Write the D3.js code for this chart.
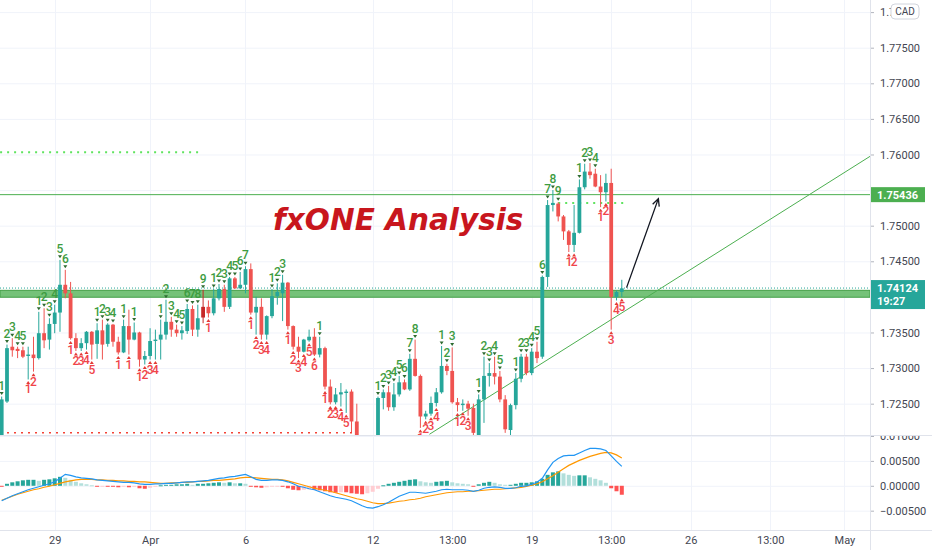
<!DOCTYPE html>
<html>
<head>
<meta charset="utf-8">
<script src="https://cdn.jsdelivr.net/npm/d3@7"></script>
<style>
  body { margin: 0; background: #fff; }
  svg { display: block; }
</style>
</head>
<body>
<div id="chart"></div>
<script>
// ---- data (4H candles) ----
const opens = [1.7200,1.7253,1.7330,1.7327,1.7325,1.7317,1.7319,1.7314,1.7349,1.7340,
1.7362,1.7378,1.7417,1.7405,1.7342,1.7328,1.7335,1.7351,1.7334,1.7353,
1.7334,1.7361,1.7337,1.7322,1.7359,1.7340,1.7350,1.7312,1.7317,1.7338,
1.7340,1.7347,1.7365,1.7354,1.7349,1.7352,1.7383,1.7354,1.7386,1.7386,
1.7377,1.7398,1.7411,1.7386,1.7426,1.7412,1.7417,1.7439,1.7378,1.7386,
1.7347,1.7373,1.7401,1.7405,1.7420,1.7359,1.7330,1.7323,1.7339,1.7344,
1.7319,1.7328,1.7274,1.7252,1.7263,1.7265,1.7267,1.7225,1.7190,1.7170,
1.7162,1.7160,1.7258,1.7266,1.7245,1.7263,1.7280,1.7270,1.7313,1.7289,
1.7232,1.7236,1.7251,1.7266,1.7303,1.7296,1.7252,1.7248,1.7250,1.7244,
1.7205,1.7256,1.7289,1.7293,1.7288,1.7256,1.7213,1.7248,1.7285,1.7316,
1.7293,1.7323,1.7316,1.7428,1.7529,1.7531,1.7513,1.7492,1.7473,1.7490,
1.7554,1.7576,1.7573,1.7555,1.7547,1.7560,1.7400,1.7407];

const highs = [1.7260,1.7333,1.7342,1.7330,1.7330,1.7330,1.7344,1.7379,1.7384,1.7370,
1.7389,1.7452,1.7438,1.7421,1.7349,1.7342,1.7352,1.7352,1.7363,1.7368,
1.7363,1.7362,1.7344,1.7368,1.7382,1.7364,1.7351,1.7324,1.7356,1.7354,
1.7368,1.7396,1.7372,1.7361,1.7359,1.7390,1.7388,1.7389,1.7410,1.7395,
1.7411,1.7418,1.7417,1.7428,1.7428,1.7435,1.7443,1.7447,1.7400,1.7398,
1.7374,1.7411,1.7419,1.7431,1.7421,1.7360,1.7344,1.7341,1.7354,1.7356,
1.7344,1.7330,1.7284,1.7272,1.7279,1.7270,1.7270,1.7250,1.7198,1.7185,
1.7178,1.7260,1.7270,1.7275,1.7279,1.7289,1.7284,1.7320,1.7340,1.7291,
1.7240,1.7260,1.7272,1.7331,1.7306,1.7329,1.7258,1.7256,1.7254,1.7250,
1.7263,1.7316,1.7307,1.7316,1.7296,1.7262,1.7250,1.7293,1.7320,1.7320,
1.7328,1.7337,1.7430,1.7536,1.7550,1.7533,1.7515,1.7494,1.7529,1.7565,
1.7587,1.7588,1.7580,1.7571,1.7573,1.7580,1.7409,1.7424];

const lows = [1.7195,1.7251,1.7316,1.7314,1.7314,1.7284,1.7295,1.7312,1.7328,1.7326,
1.7349,1.7351,1.7398,1.7340,1.7324,1.7324,1.7326,1.7312,1.7313,1.7312,
1.7330,1.7330,1.7319,1.7321,1.7319,1.7339,1.7302,1.7305,1.7312,1.7312,
1.7312,1.7340,1.7344,1.7344,1.7340,1.7348,1.7345,1.7344,1.7363,1.7371,
1.7374,1.7395,1.7379,1.7383,1.7411,1.7411,1.7405,1.7375,1.7347,1.7340,
1.7340,1.7370,1.7389,1.7366,1.7354,1.7326,1.7314,1.7322,1.7337,1.7317,
1.7315,1.7270,1.7249,1.7249,1.7246,1.7237,1.7210,1.7180,1.7155,1.7148,
1.7150,1.7155,1.7242,1.7240,1.7240,1.7260,1.7269,1.7268,1.7288,1.7216,
1.7228,1.7233,1.7246,1.7264,1.7290,1.7250,1.7239,1.7240,1.7233,1.7200,
1.7200,1.7223,1.7274,1.7277,1.7252,1.7209,1.7205,1.7242,1.7280,1.7290,
1.7290,1.7307,1.7313,1.7414,1.7520,1.7506,1.7480,1.7463,1.7463,1.7489,
1.7551,1.7566,1.7554,1.7526,1.7534,1.7354,1.7395,1.7400];

const closes = [1.7256,1.7328,1.7325,1.7324,1.7316,1.7319,1.7314,1.7349,1.7339,1.7362,
1.7378,1.7417,1.7405,1.7342,1.7328,1.7335,1.7351,1.7333,1.7353,1.7333,
1.7361,1.7337,1.7322,1.7359,1.7340,1.7350,1.7312,1.7317,1.7338,1.7340,
1.7347,1.7365,1.7354,1.7349,1.7353,1.7383,1.7354,1.7370,1.7371,1.7377,
1.7398,1.7411,1.7386,1.7426,1.7412,1.7417,1.7439,1.7378,1.7386,1.7347,
1.7373,1.7401,1.7407,1.7420,1.7359,1.7330,1.7323,1.7340,1.7344,1.7319,
1.7328,1.7274,1.7252,1.7263,1.7266,1.7267,1.7225,1.7190,1.7170,1.7162,
1.7160,1.7258,1.7266,1.7245,1.7263,1.7280,1.7270,1.7313,1.7289,1.7232,
1.7236,1.7251,1.7266,1.7303,1.7296,1.7252,1.7248,1.7250,1.7243,1.7209,
1.7256,1.7289,1.7293,1.7288,1.7256,1.7214,1.7248,1.7285,1.7316,1.7293,
1.7323,1.7314,1.7428,1.7529,1.7532,1.7513,1.7492,1.7473,1.7490,1.7554,
1.7576,1.7571,1.7555,1.7547,1.7560,1.7400,1.7407,1.7412];

// MACD pane
const macdLine = [-0.0030,-0.0025,-0.0020,-0.0016,-0.0012,-0.0008,-0.0005,-0.0002,0.0001,0.0004,
0.0008,0.0015,0.0023,0.0021,0.0018,0.0016,0.0015,0.0014,0.0012,0.0011,
0.0010,0.0009,0.0008,0.0007,0.0007,0.0006,0.0004,0.0003,0.0003,0.0004,
0.0004,0.0005,0.0005,0.0006,0.0007,0.0008,0.0008,0.0009,0.0010,0.0011,
0.0013,0.0015,0.0016,0.0018,0.0019,0.0021,0.0023,0.0018,0.0013,0.0011,
0.0011,0.0012,0.0012,0.0011,0.0008,0.0004,-0.0001,-0.0003,-0.0006,-0.0008,
-0.0012,-0.0016,-0.0020,-0.0023,-0.0025,-0.0027,-0.0030,-0.0035,-0.0040,-0.0044,
-0.0045,-0.0042,-0.0038,-0.0033,-0.0027,-0.0021,-0.0017,-0.0013,-0.0013,-0.0014,
-0.0015,-0.0013,-0.0011,-0.0008,-0.0007,-0.0008,-0.0008,-0.0008,-0.0009,-0.0011,
-0.0009,-0.0005,-0.0003,-0.0002,-0.0003,-0.0005,-0.0005,-0.0004,-0.0001,0.0000,
0.0003,0.0007,0.0015,0.0032,0.0047,0.0055,0.0060,0.0061,0.0061,0.0066,
0.0071,0.0075,0.0075,0.0074,0.0071,0.0060,0.0049,0.0039];

const signalLine = [-0.0029,-0.0025,-0.0021,-0.0017,-0.0014,-0.0011,-0.0008,-0.0006,-0.0003,-0.0001,
0.0002,0.0005,0.0008,0.0010,0.0012,0.0013,0.0013,0.0013,0.0012,0.0012,
0.0011,0.0011,0.0010,0.0010,0.0009,0.0009,0.0008,0.0008,0.0007,0.0006,
0.0005,0.0005,0.0006,0.0006,0.0007,0.0007,0.0008,0.0009,0.0009,0.0010,
0.0011,0.0011,0.0012,0.0013,0.0014,0.0016,0.0017,0.0017,0.0016,0.0015,
0.0014,0.0013,0.0013,0.0012,0.0010,0.0007,0.0004,0.0001,-0.0002,-0.0005,
-0.0007,-0.0009,-0.0011,-0.0014,-0.0017,-0.0020,-0.0023,-0.0026,-0.0028,-0.0031,
-0.0034,-0.0036,-0.0036,-0.0035,-0.0033,-0.0031,-0.0030,-0.0028,-0.0027,-0.0025,
-0.0022,-0.0020,-0.0018,-0.0016,-0.0014,-0.0013,-0.0012,-0.0012,-0.0011,-0.0011,
-0.0010,-0.0009,-0.0008,-0.0007,-0.0007,-0.0006,-0.0005,-0.0004,-0.0003,-0.0001,
0.0001,0.0004,0.0008,0.0014,0.0020,0.0027,0.0034,0.0041,0.0046,0.0051,
0.0055,0.0059,0.0062,0.0065,0.0067,0.0066,0.0062,0.0056];

const histValues = [-0.0002,0.0004,0.0007,0.0009,0.0011,0.0012,0.0012,0.0010,0.0012,0.0013,
0.0015,0.0018,0.0016,0.0012,0.0008,0.0005,0.0003,0.0001,-0.0002,-0.0001,
-0.0001,-0.0002,-0.0003,-0.0002,-0.0003,-0.0002,-0.0005,-0.0006,-0.0004,-0.0002,
0.0001,0.0002,0.0002,0.0003,0.0003,0.0004,0.0002,0.0004,0.0004,0.0005,
0.0006,0.0007,0.0006,0.0007,0.0005,0.0005,0.0004,-0.0001,-0.0003,-0.0004,
-0.0003,-0.0002,-0.0001,-0.0001,-0.0005,-0.0008,-0.0009,-0.0008,-0.0007,-0.0008,
-0.0009,-0.0011,-0.0013,-0.0014,-0.0013,-0.0013,-0.0015,-0.0016,-0.0017,-0.0015,
-0.0012,-0.0006,0.0001,0.0004,0.0006,0.0008,0.0010,0.0012,0.0013,0.0009,
0.0007,0.0006,0.0008,0.0009,0.0010,0.0007,0.0005,0.0004,0.0003,-0.0002,
0.0003,0.0006,0.0008,0.0006,0.0003,0.0002,0.0002,0.0004,0.0006,0.0006,
0.0007,0.0009,0.0014,0.0022,0.0027,0.0029,0.0025,0.0022,0.0020,0.0021,
0.0021,0.0017,0.0014,0.0011,0.0006,-0.0005,-0.0011,-0.0018];

// TD sequential counts: [bar index, label]
const tdUp = [[0,"1"],[1,"2"],[2,"3"],[3,"4"],[4,"5"],[7,"1"],[8,"2"],[9,"3"],[10,"4"],[11,"5"],[12,"6"],
[18,"1"],[19,"2"],[20,"3"],[21,"4"],[23,"1"],[25,"1"],[30,"1"],[31,"2"],[32,"3"],[33,"4"],[34,"5"],
[35,"6"],[36,"7"],[37,"8"],[38,"9"],[40,"1"],[41,"2"],[42,"3"],[43,"4"],[44,"5"],[45,"6"],[46,"7"],
[51,"1"],[52,"2"],[53,"3"],[60,"1"],[71,"1"],[72,"2"],[73,"3"],[74,"4"],[75,"5"],[76,"6"],[77,"7"],
[78,"8"],[83,"1"],[84,"2"],[85,"3"],[90,"1"],[91,"2"],[92,"3"],[93,"4"],[94,"5"],[97,"1"],[98,"2"],
[99,"3"],[100,"4"],[101,"5"],[102,"6"],[103,"7"],[104,"8"],[105,"9"],[109,"1"],[110,"2"],[111,"3"],[112,"4"]];
const tdDown = [[5,"1"],[6,"2"],[13,"1"],[14,"2"],[15,"3"],[16,"4"],[17,"5"],[22,"1"],[24,"1"],[26,"1"],
[27,"2"],[28,"3"],[29,"4"],[39,"1"],[47,"1"],[48,"2"],[49,"3"],[50,"4"],[54,"1"],[55,"2"],[56,"3"],
[57,"4"],[58,"5"],[59,"6"],[61,"1"],[62,"2"],[63,"3"],[64,"4"],[65,"5"],[79,"1"],[80,"2"],[81,"3"],
[82,"4"],[86,"1"],[87,"2"],[88,"3"],[107,"1"],[108,"2"],[113,"1"],[114,"2"],[115,"3"],[116,"4"],[117,"5"]];

// axes (1.74000 and 1.75500 sit under the price labels in the reference)
const priceTicks = [1.725,1.730,1.735,1.745,1.750,1.760,1.765,1.770,1.775,1.780];
const gridTicks = [1.725,1.730,1.735,1.740,1.745,1.750,1.755,1.760,1.765,1.770,1.775,1.780];
const macdTicks = [-0.005, 0, 0.005, 0.01];
const timeTicks = [10, 28, 46, 70, 85, 100, 115, 130, 145, 159];
const timeLabels = ["29","Apr","6","12","13:00","19","13:00","26","13:00","May"];

// drawings
const resistance = 1.75436;
const lastPrice = 1.74124;
const countdown = "19:27";
const zoneLow = 1.73995, zoneHigh = 1.74092;
const greenDotPrices = [1.7603, 1.7532];
const greenDotFrom = [-0.3, 105];
const greenDotTo = [37.2, 117.6];
const redDotPrice = 1.7209, redDotTo = 67.2;
const trendStart = [80.7, 1.7207], trendEnd = [164.6, 1.7601];
const arrowFrom = [117.9, 1.7413], arrowTo = [123.9, 1.7538];

// ---- layout ----
const width = 932, height = 550;
const plotRight = 870, priceBottom = 435, macdTop = 436, macdBottom = 530;
const teal = "#26a69a", red = "#ef5350";

const xScale = d3.scaleLinear().domain([-0.32, 163.83]).range([0, plotRight]);
const yScale = d3.scaleLinear().domain([1.7206, 1.7817]).range([priceBottom, 0]);
const yMacd = d3.scaleLinear().domain([-0.00888, 0.01]).range([macdBottom, macdTop]);

const svg = d3.select("#chart").append("svg")
  .attr("width", width).attr("height", height)
  .style("font-family", "Roboto, 'Liberation Sans', sans-serif");

const defs = svg.append("defs");
defs.append("clipPath").attr("id", "clipPrice")
  .append("rect").attr("x", 0).attr("y", 0).attr("width", plotRight).attr("height", priceBottom);
defs.append("clipPath").attr("id", "clipMacd")
  .append("rect").attr("x", 0).attr("y", macdTop).attr("width", plotRight).attr("height", macdBottom - macdTop);
defs.append("clipPath").attr("id", "clipMacdAxis")
  .append("rect").attr("x", plotRight).attr("y", macdTop).attr("width", width - plotRight).attr("height", macdBottom - macdTop);
defs.append("clipPath").attr("id", "clipBadge")
  .append("rect").attr("x", plotRight).attr("y", 0).attr("width", 21).attr("height", 24);

// grid
svg.append("g").selectAll("line").data(gridTicks).join("line")
  .attr("x1", 0).attr("x2", plotRight)
  .attr("y1", d => yScale(d) + 0.5).attr("y2", d => yScale(d) + 0.5)
  .attr("stroke", "#f0f3fa");
svg.append("g").selectAll("line").data(macdTicks).join("line")
  .attr("x1", 0).attr("x2", plotRight)
  .attr("y1", d => yMacd(d) + 0.5).attr("y2", d => yMacd(d) + 0.5)
  .attr("stroke", "#f0f3fa");
svg.append("g").selectAll("line").data(timeTicks).join("line")
  .attr("x1", d => Math.round(xScale(d)) + 0.5).attr("x2", d => Math.round(xScale(d)) + 0.5)
  .attr("y1", 0).attr("y2", macdBottom)
  .attr("stroke", "#f0f3fa");

// ---- price pane ----
const price = svg.append("g").attr("clip-path", "url(#clipPrice)");

// support zone
price.append("rect")
  .attr("x", 0).attr("width", plotRight)
  .attr("y", yScale(zoneHigh)).attr("height", yScale(zoneLow) - yScale(zoneHigh))
  .attr("fill", "#66bb6a").attr("fill-opacity", 0.9)
  .attr("stroke", "#43a047").attr("stroke-width", 1);

// resistance line
price.append("line")
  .attr("x1", 0).attr("x2", plotRight)
  .attr("y1", yScale(resistance)).attr("y2", yScale(resistance))
  .attr("stroke", "#4caf50").attr("stroke-width", 1);

// dotted levels
price.selectAll(".gdot").data(greenDotPrices).join("line")
  .attr("class", "gdot")
  .attr("x1", (d, i) => xScale(greenDotFrom[i])).attr("x2", (d, i) => xScale(greenDotTo[i]))
  .attr("y1", d => yScale(d)).attr("y2", d => yScale(d))
  .attr("stroke", "#5fe35f").attr("stroke-width", 2).attr("stroke-dasharray", "2,5");
price.append("line")
  .attr("x1", 0).attr("x2", xScale(redDotTo))
  .attr("y1", yScale(redDotPrice)).attr("y2", yScale(redDotPrice))
  .attr("stroke", "#f44336").attr("stroke-width", 1.5).attr("stroke-dasharray", "2,5");

// last price line
price.append("line")
  .attr("x1", 0).attr("x2", plotRight)
  .attr("y1", yScale(lastPrice)).attr("y2", yScale(lastPrice))
  .attr("stroke", teal).attr("stroke-width", 1).attr("stroke-dasharray", "1,2");

// trend line
price.append("line")
  .attr("x1", xScale(trendStart[0])).attr("y1", yScale(trendStart[1]))
  .attr("x2", xScale(trendEnd[0])).attr("y2", yScale(trendEnd[1]))
  .attr("stroke", "#4caf50").attr("stroke-width", 1);

// candles
const bars = opens.map((o, i) => ({ i, o, h: highs[i], l: lows[i], c: closes[i] }));
const barColor = d => d.c >= d.o ? teal : (d.i === 38 ? "#c62828" : red);

price.selectAll(".wick").data(bars).join("line")
  .attr("class", "wick")
  .attr("x1", d => xScale(d.i)).attr("x2", d => xScale(d.i))
  .attr("y1", d => yScale(d.h)).attr("y2", d => yScale(d.l))
  .attr("stroke", barColor).attr("stroke-width", 1);

price.selectAll(".body").data(bars).join("rect")
  .attr("class", "body")
  .attr("x", d => xScale(d.i) - 1.9).attr("width", 3.8)
  .attr("y", d => yScale(Math.max(d.o, d.c)))
  .attr("height", d => Math.max(1, Math.abs(yScale(d.o) - yScale(d.c))))
  .attr("fill", barColor);

// TD counts
const upG = price.append("g");
upG.selectAll("path").data(tdUp).join("path")
  .attr("d", d => {
    const cx = xScale(d[0]), cy = yScale(highs[d[0]]) - 3;
    return `M${cx - 2},${cy - 1.5}L${cx + 2},${cy - 1.5}L${cx},${cy + 1.5}Z`;
  })
  .attr("fill", "#2e6b30");
upG.selectAll("text").data(tdUp).join("text")
  .attr("x", d => xScale(d[0]))
  .attr("y", d => yScale(highs[d[0]]) - 7)
  .attr("text-anchor", "middle")
  .attr("font-size", 12).attr("font-weight", 500)
  .attr("fill", "#3d9c41")
  .text(d => d[1]);

const downG = price.append("g");
downG.selectAll("path").data(tdDown).join("path")
  .attr("d", d => {
    const cx = xScale(d[0]), cy = yScale(lows[d[0]]) + 3;
    return `M${cx - 2},${cy + 1.5}L${cx + 2},${cy + 1.5}L${cx},${cy - 1.5}Z`;
  })
  .attr("fill", "#e53935");
downG.selectAll("text").data(tdDown).join("text")
  .attr("x", d => xScale(d[0]))
  .attr("y", d => yScale(lows[d[0]]) + 14)
  .attr("text-anchor", "middle")
  .attr("font-size", 12).attr("font-weight", 500)
  .attr("fill", "#f0444a")
  .text(d => d[1]);

// arrow
const ax1 = xScale(arrowFrom[0]), ay1 = yScale(arrowFrom[1]);
const ax2 = xScale(arrowTo[0]), ay2 = yScale(arrowTo[1]);
const ang = Math.atan2(ay2 - ay1, ax2 - ax1);
price.append("path")
  .attr("d", `M${ax1},${ay1}L${ax2},${ay2}` +
    `M${ax2 - 8 * Math.cos(ang - 0.45)},${ay2 - 8 * Math.sin(ang - 0.45)}L${ax2},${ay2}` +
    `L${ax2 - 8 * Math.cos(ang + 0.45)},${ay2 - 8 * Math.sin(ang + 0.45)}`)
  .attr("fill", "none").attr("stroke", "#131722").attr("stroke-width", 1.3);

// title
svg.append("text")
  .attr("x", 273).attr("y", 230)
  .attr("font-family", "'DejaVu Sans', Verdana, sans-serif")
  .attr("font-size", 29.5).attr("font-weight", "bold").attr("font-style", "italic")
  .attr("fill", "#c8161d")
  .text("fxONE Analysis");

// ---- MACD pane ----
const macdG = svg.append("g").attr("clip-path", "url(#clipMacd)");

macdG.selectAll("rect").data(histValues).join("rect")
  .attr("x", (d, i) => xScale(i) - 2).attr("width", 4)
  .attr("y", d => yMacd(Math.max(0, d)))
  .attr("height", d => Math.max(1, Math.abs(yMacd(d) - yMacd(0))))
  .attr("fill", (d, i) => {
    const prev = i > 0 ? histValues[i - 1] : d;
    if (d >= 0) return d >= prev ? teal : "#b2dfdb";
    return d <= prev ? "#ff5252" : "#ffcdd2";
  });

const macdPath = d3.line().x((d, i) => xScale(i)).y(d => yMacd(d));
macdG.append("path").datum(signalLine)
  .attr("d", macdPath).attr("fill", "none").attr("stroke", "#ff9800").attr("stroke-width", 1.2);
macdG.append("path").datum(macdLine)
  .attr("d", macdPath).attr("fill", "none").attr("stroke", "#2196f3").attr("stroke-width", 1.2);

// ---- axes ----
const axisText = "#434651";

const yAxis = svg.append("g")
  .attr("transform", `translate(${plotRight},0)`)
  .call(d3.axisRight(yScale).tickValues(priceTicks.slice(0, -1)).tickFormat(d3.format(".5f")).tickSize(4).tickPadding(6));
yAxis.select(".domain").remove();

// top tick runs under the currency badge: only its start is visible
const topAxis = svg.append("g")
  .attr("clip-path", "url(#clipBadge)")
  .append("g")
  .attr("transform", `translate(${plotRight},0)`)
  .call(d3.axisRight(yScale).tickValues(priceTicks.slice(-1)).tickFormat(d3.format(".5f")).tickSize(4).tickPadding(6));
topAxis.select(".domain").remove();

const mAxis = svg.append("g")
  .attr("clip-path", "url(#clipMacdAxis)")
  .append("g")
  .attr("transform", `translate(${plotRight},0)`)
  .call(d3.axisRight(yMacd).tickValues(macdTicks).tickFormat(d3.format(".5f")).tickSize(4).tickPadding(6));
mAxis.select(".domain").remove();

const xAxis = svg.append("g")
  .attr("transform", `translate(0,${macdBottom})`)
  .call(d3.axisBottom(xScale).tickValues(timeTicks).tickFormat((d, i) => timeLabels[i]).tickSize(0).tickPadding(6));
xAxis.select(".domain").remove();

svg.selectAll(".tick text")
  .attr("font-family", "Roboto, 'Liberation Sans', sans-serif")
  .attr("font-size", 11).attr("fill", axisText);
svg.selectAll(".tick line").attr("stroke", "#b2b5be");

// borders
svg.append("line").attr("x1", 0).attr("x2", width).attr("y1", priceBottom + 0.5).attr("y2", priceBottom + 0.5).attr("stroke", "#e0e3eb");
svg.append("line").attr("x1", 0).attr("x2", width).attr("y1", macdBottom + 0.5).attr("y2", macdBottom + 0.5).attr("stroke", "#e0e3eb");
svg.append("line").attr("x1", plotRight + 0.5).attr("x2", plotRight + 0.5).attr("y1", 0).attr("y2", height).attr("stroke", "#e0e3eb");

// price labels on the axis
const resY = yScale(resistance);
svg.append("rect").attr("x", plotRight + 1).attr("y", resY - 7.5).attr("width", 54).attr("height", 15).attr("fill", "#4caf50");
svg.append("text").attr("x", plotRight + 7).attr("y", resY + 4)
  .attr("font-size", 11).attr("font-weight", "bold").attr("fill", "#fff").text(d3.format(".5f")(resistance));

const lastY = yScale(lastPrice);
svg.append("rect").attr("x", plotRight + 1).attr("y", lastY - 8).attr("width", 54).attr("height", 29).attr("fill", teal);
svg.append("text").attr("x", plotRight + 7).attr("y", lastY + 4)
  .attr("font-size", 11).attr("font-weight", "bold").attr("fill", "#fff").text(d3.format(".5f")(lastPrice));
svg.append("text").attr("x", plotRight + 7).attr("y", lastY + 17)
  .attr("font-size", 11).attr("font-weight", "bold").attr("fill", "#fff").text(countdown);

// currency badge
svg.append("rect").attr("x", 891).attr("y", 4).attr("width", 28).attr("height", 15).attr("rx", 4)
  .attr("fill", "#fff").attr("stroke", "#d1d4dc");
svg.append("text").attr("x", 905).attr("y", 15).attr("text-anchor", "middle")
  .attr("font-size", 10).attr("fill", axisText).text("CAD");
</script>
</body>
</html>
